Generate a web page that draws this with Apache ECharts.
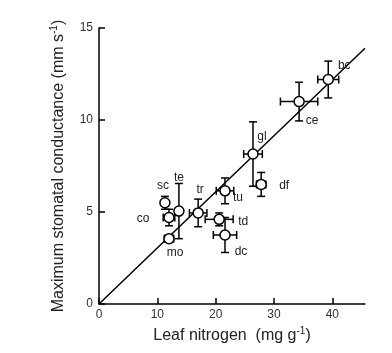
<!DOCTYPE html>
<html>
<head>
<meta charset="utf-8">
<script src="https://cdn.jsdelivr.net/npm/echarts@6/dist/echarts.min.js"></script>
<style>
  html, body { margin: 0; padding: 0; background: #fff; }
  #chart { width: 392px; height: 353px; }
</style>
</head>
<body>
<div id="chart"></div>
<script>
// species codes and their means / error bars
const species = ["bc", "ce", "gl", "df", "tu", "tr", "td", "dc", "sc", "co", "te", "mo"];
const nitrogen = [39.3, 34.3, 26.4, 27.8, 21.6, 17.0, 20.6, 21.6, 11.3, 12.0, 13.7, 12.0];
const nitrogenErr = [1.8, 3.2, 1.6, 0.8, 1.5, 1.5, 2.4, 2.0, 0.5, 1.0, 0.5, 0.8];
const conductance = [12.2, 11.0, 8.15, 6.5, 6.15, 4.95, 4.6, 3.75, 5.5, 4.7, 5.05, 3.55];
const conductanceErr = [1.0, 1.05, 1.75, 0.65, 0.7, 0.75, 0.35, 0.95, 0.35, 0.45, 1.5, 0.15];
const fitLine = [[0, 0], [45.6, 13.9]];
const xTicks = [0, 10, 20, 30, 40];
const yTicks = [0, 5, 10, 15];

// where each label sits relative to its circle (px)
const labelOffset = {
  bc: [16, -14], ce: [13, 19], gl: [9, -17], df: [23, 1],
  tu: [13, 7], tr: [2, -23], td: [24, 2], dc: [16, 17],
  sc: [-2, -17], co: [-26, 1], te: [0, -33], mo: [6, 14]
};

const points = species.map((s, i) => ({
  name: s,
  value: [nitrogen[i], conductance[i]],
  label: { offset: labelOffset[s] }
}));
const errData = species.map((s, i) => [nitrogen[i], conductance[i], nitrogenErr[i], conductanceErr[i]]);

const chart = echarts.init(document.getElementById("chart"));
const font = "Liberation Sans, Arial, sans-serif";
const cap = 4;

chart.setOption({
  backgroundColor: "#fff",
  animation: false,
  grid: { left: 99, top: 28, width: 266, height: 276 },
  xAxis: {
    type: "value",
    min: 0,
    max: 45.6,
    interval: 10,
    name: "{t|Leaf nitrogen  (mg g}{s|-1}{t|)}",
    nameLocation: "middle",
    nameGap: 21,
    nameTextStyle: {
      rich: {
        t: { fontSize: 16, fontFamily: font, color: "#222" },
        s: { fontSize: 10, fontFamily: font, color: "#222", verticalAlign: "top", padding: [0, 0, 9, 0] }
      }
    },
    axisLine: { lineStyle: { color: "#000", width: 1.5 } },
    axisTick: { inside: true, length: 6, lineStyle: { color: "#000", width: 1.5 } },
    axisLabel: {
      showMaxLabel: false,
      fontSize: 12, fontFamily: font, color: "#333", margin: 5,
      formatter: v => xTicks.includes(v) ? String(v) : ""
    },
    splitLine: { show: false }
  },
  yAxis: {
    type: "value",
    min: 0,
    max: 15,
    interval: 5,
    name: "{t|Maximum stomatal conductance (mm s}{s|-1}{t|)}",
    nameLocation: "middle",
    nameGap: 31,
    nameTextStyle: {
      rich: {
        t: { fontSize: 16, fontFamily: font, color: "#222" },
        s: { fontSize: 10, fontFamily: font, color: "#222", verticalAlign: "top", padding: [0, 0, 9, 0] }
      }
    },
    axisLine: { onZero: false, lineStyle: { color: "#000", width: 1.5 } },
    axisTick: { inside: true, length: 6, lineStyle: { color: "#000", width: 1.5 } },
    axisLabel: {
      fontSize: 12, fontFamily: font, color: "#333", margin: 6,
      formatter: v => yTicks.includes(v) ? String(v) : ""
    },
    splitLine: { show: false }
  },
  series: [
    {
      type: "line",
      data: fitLine,
      symbol: "none",
      lineStyle: { color: "#000", width: 1.5 },
      z: 1
    },
    {
      type: "custom",
      data: errData,
      z: 2,
      renderItem: function (params, api) {
        const x = api.value(0), y = api.value(1), ex = api.value(2), ey = api.value(3);
        const l = api.coord([x - ex, y]), r = api.coord([x + ex, y]);
        const t = api.coord([x, y + ey]), b = api.coord([x, y - ey]);
        const st = { stroke: "#000", lineWidth: 1.5 };
        const seg = (x1, y1, x2, y2) => ({ type: "line", shape: { x1, y1, x2, y2 }, style: st });
        return {
          type: "group",
          children: [
            seg(l[0], l[1], r[0], r[1]),
            seg(l[0], l[1] - cap, l[0], l[1] + cap),
            seg(r[0], r[1] - cap, r[0], r[1] + cap),
            seg(t[0], t[1], b[0], b[1]),
            seg(t[0] - cap, t[1], t[0] + cap, t[1]),
            seg(b[0] - cap, b[1], b[0] + cap, b[1])
          ]
        };
      }
    },
    {
      type: "scatter",
      data: points,
      symbol: "circle",
      symbolSize: 10,
      z: 3,
      itemStyle: { color: "#fff", borderColor: "#000", borderWidth: 1.5, opacity: 1 },
      label: {
        show: true,
        position: "inside",
        formatter: "{b}",
        fontSize: 12,
        fontFamily: font,
        color: "#222",
        align: "center",
        verticalAlign: "middle"
      }
    }
  ]
});
</script>
</body>
</html>
